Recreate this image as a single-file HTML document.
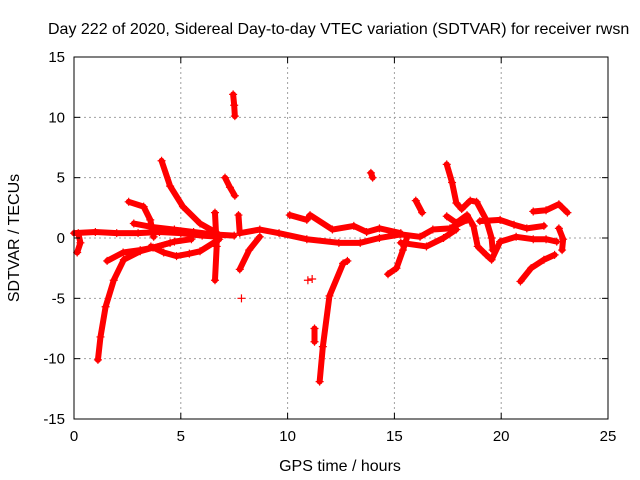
<!DOCTYPE html>
<html><head><meta charset="utf-8"><style>
body{margin:0;background:#fff}
svg{display:block;font-family:"Liberation Sans",sans-serif}
</style></head><body>
<svg id="chart" width="640" height="480" xmlns="http://www.w3.org/2000/svg">
<rect width="640" height="480" fill="#fff"/>
<text x="48" y="34" font-size="16">Day 222 of 2020, Sidereal Day-to-day VTEC variation (SDTVAR) for receiver rwsn</text>
<text x="340" y="471" font-size="16" text-anchor="middle">GPS time / hours</text>
<text transform="translate(19,238) rotate(-90)" font-size="16" text-anchor="middle">SDTVAR / TECUs</text>
<g id="grid"></g><g id="marks"></g><g id="axes"></g>
</svg>
<script>
const xTicks=[0,5,10,15,20,25];
const yTicks=[-15,-10,-5,0,5,10,15];
const trackA=[[0,0.4],[1,0.5],[2,0.4],[3,0.4],[4,0.5],[5,0.4],[6,0.2],[6.8,0.1]];
const trackB=[[2.8,1.2],[3.7,0.9],[4.7,0.7],[5.6,0.5],[6.5,0.3],[7.5,0.2]];
const trackC=[[1.55,-1.9],[2.3,-1.2],[3.1,-1.0],[3.7,-0.8],[4.7,-0.3],[5.5,-0.1]];
const trackD=[[3.6,-0.7],[4.2,-1.2],[4.8,-1.5],[5.4,-1.3],[5.9,-1.1],[6.8,-0.1]];
const trackE=[[1.12,-10.1],[1.24,-8.2],[1.48,-5.7],[1.86,-3.5],[2.33,-1.8],[3.1,-1.1],[4.5,-0.4]];
const trackF=[[4.1,6.4],[4.5,4.3],[5.1,2.6],[5.9,1.2],[6.7,0.4]];
const trackG=[[2.56,3.0],[3.26,2.6],[3.57,1.5],[3.73,0.1]];
const trackH=[[7.07,5.0],[7.3,4.2],[7.53,3.5]];
const trackI=[[7.45,11.9],[7.5,11.0],[7.53,10.1]];
const trackJ=[[6.6,2.1],[6.68,-0.7],[6.6,-3.5]];
const trackK=[[7.76,-2.6],[8.2,-1.0],[8.7,0.1]];
const trackL=[[7.7,1.9],[7.76,0.4],[8.7,0.7],[9.6,0.4],[10.9,-0.1],[12.4,-0.4],[13.4,-0.4],[14.3,0],[15.3,0.3],[16.2,0.1],[16.8,0.7],[17.6,0.8],[18.4,1.5]];
const trackM=[[10.1,1.9],[10.9,1.5],[11.05,1.9],[12.1,0.7],[13.1,1.0],[13.7,0.5],[14.3,0.8],[15.3,0.4]];
const trackN=[[11.26,-7.5],[11.26,-8.6]];
const trackO=[[11.5,-11.9],[11.65,-9],[11.96,-4.8],[12.6,-2.1],[12.8,-1.9]];
const trackP=[[13.9,5.4],[13.98,5.0]];
const trackQ=[[16.0,3.1],[16.3,2.1]];
const trackR=[[14.7,-3.0],[15.1,-2.5],[15.4,-1.0],[15.6,0.1]];
const trackS=[[17.45,6.1],[17.7,4.6],[17.9,2.9],[18.15,2.4],[18.55,3.1],[18.85,3.0],[19.3,1.5],[19.55,0],[19.6,-1.0]];
const trackT=[[17.45,1.8],[17.9,1.25],[18.4,1.9],[18.7,1.0],[18.9,-0.7],[19.3,-1.4],[19.55,-1.8],[19.95,-0.3],[20.7,0.1],[21.5,-0.1],[22.1,-0.1],[22.6,-0.3]];
const trackU=[[19.0,1.4],[19.95,1.5],[20.6,1.1],[21.2,0.8],[22.0,1.0]];
const trackV=[[21.5,2.2],[22.1,2.3],[22.7,2.8],[23.1,2.1]];
const trackW=[[20.9,-3.6],[21.4,-2.5],[22.0,-1.8],[22.5,-1.4]];
const trackX=[[22.7,0.8],[22.9,-0.1],[22.85,-1.0]];
const trackY=[[15.3,-0.4],[16.5,-0.7],[17.3,0],[17.9,0.7]];
const trackZ=[[0.15,-1.2],[0.3,-0.4],[0.2,0.4]];
const singles=[[7.84,-5.0],[10.95,-3.5],[11.15,-3.4]];
const tracks=[trackA,trackB,trackC,trackD,trackE,trackF,trackG,trackH,trackI,trackJ,trackK,trackL,trackM,trackN,trackO,trackP,trackQ,trackR,trackS,trackT,trackU,trackV,trackW,trackX,trackY,trackZ];

const X0=74,X1=608,Y0=419,Y1=57;
const sx=v=>X0+(v-0)/(25-0)*(X1-X0);
const sy=v=>Y0-(v+15)/30*(Y0-Y1);
const NS="http://www.w3.org/2000/svg";
function mk(tag,parent){const e=document.createElementNS(NS,tag);parent.appendChild(e);return e;}
const grid=document.getElementById('grid'),axes=document.getElementById('axes'),marks=document.getElementById('marks');
xTicks.forEach(t=>{
  const x=sx(t);
  if(t>0&&t<25){const g=mk('line',grid);g.setAttribute('x1',x);g.setAttribute('x2',x);g.setAttribute('y1',Y1);g.setAttribute('y2',Y0);g.setAttribute('stroke','#a0a0a0');g.setAttribute('stroke-dasharray','2,3');
  
  }
  [[Y0,Y0-6],[Y1,Y1+6]].forEach(p=>{const l=mk('line',axes);l.setAttribute('x1',x);l.setAttribute('x2',x);l.setAttribute('y1',p[0]);l.setAttribute('y2',p[1]);l.setAttribute('stroke','#000');
  
  });
  const tx=mk('text',axes);tx.textContent=t;tx.setAttribute('x',x);tx.setAttribute('y',Y0+22);tx.setAttribute('font-size','15');tx.setAttribute('text-anchor','middle');
  
  
});
yTicks.forEach(t=>{
  const y=sy(t);
  if(t>-15&&t<15){const g=mk('line',grid);g.setAttribute('x1',X0);g.setAttribute('x2',X1);g.setAttribute('y1',y);g.setAttribute('y2',y);g.setAttribute('stroke','#a0a0a0');g.setAttribute('stroke-dasharray','2,3');
  
  }
  [[X0,X0+6],[X1,X1-6]].forEach(p=>{const l=mk('line',axes);l.setAttribute('x1',p[0]);l.setAttribute('x2',p[1]);l.setAttribute('y1',y);l.setAttribute('y2',y);l.setAttribute('stroke','#000');
  
  });
  const tx=mk('text',axes);tx.textContent=t;tx.setAttribute('x',X0-9);tx.setAttribute('y',y+5);tx.setAttribute('font-size','15');tx.setAttribute('text-anchor','end');
  
  
});
const fr=mk('rect',axes);fr.setAttribute('x',X0);fr.setAttribute('y',Y1);fr.setAttribute('width',X1-X0);fr.setAttribute('height',Y0-Y1);fr.setAttribute('fill','none');fr.setAttribute('stroke','#000');


function plus(x,y){const p=mk('path',marks);p.setAttribute('d',`M${x-4} ${y}H${x+4}M${x} ${y-4}V${y+4}`);p.setAttribute('stroke','#f00');p.setAttribute('stroke-width','1.2');
  
  }
tracks.forEach(tr=>{
  const pl=mk('polyline',marks);
  pl.setAttribute('points',tr.map(p=>sx(p[0])+','+sy(p[1])).join(' '));
  pl.setAttribute('fill','none');pl.setAttribute('stroke','#f00');pl.setAttribute('stroke-width','6');pl.setAttribute('stroke-linejoin','round');pl.setAttribute('stroke-linecap','round');
  
  
  tr.forEach(p=>plus(sx(p[0]),sy(p[1])));
});
singles.forEach(p=>plus(sx(p[0]),sy(p[1])));
</script>
</body></html>
